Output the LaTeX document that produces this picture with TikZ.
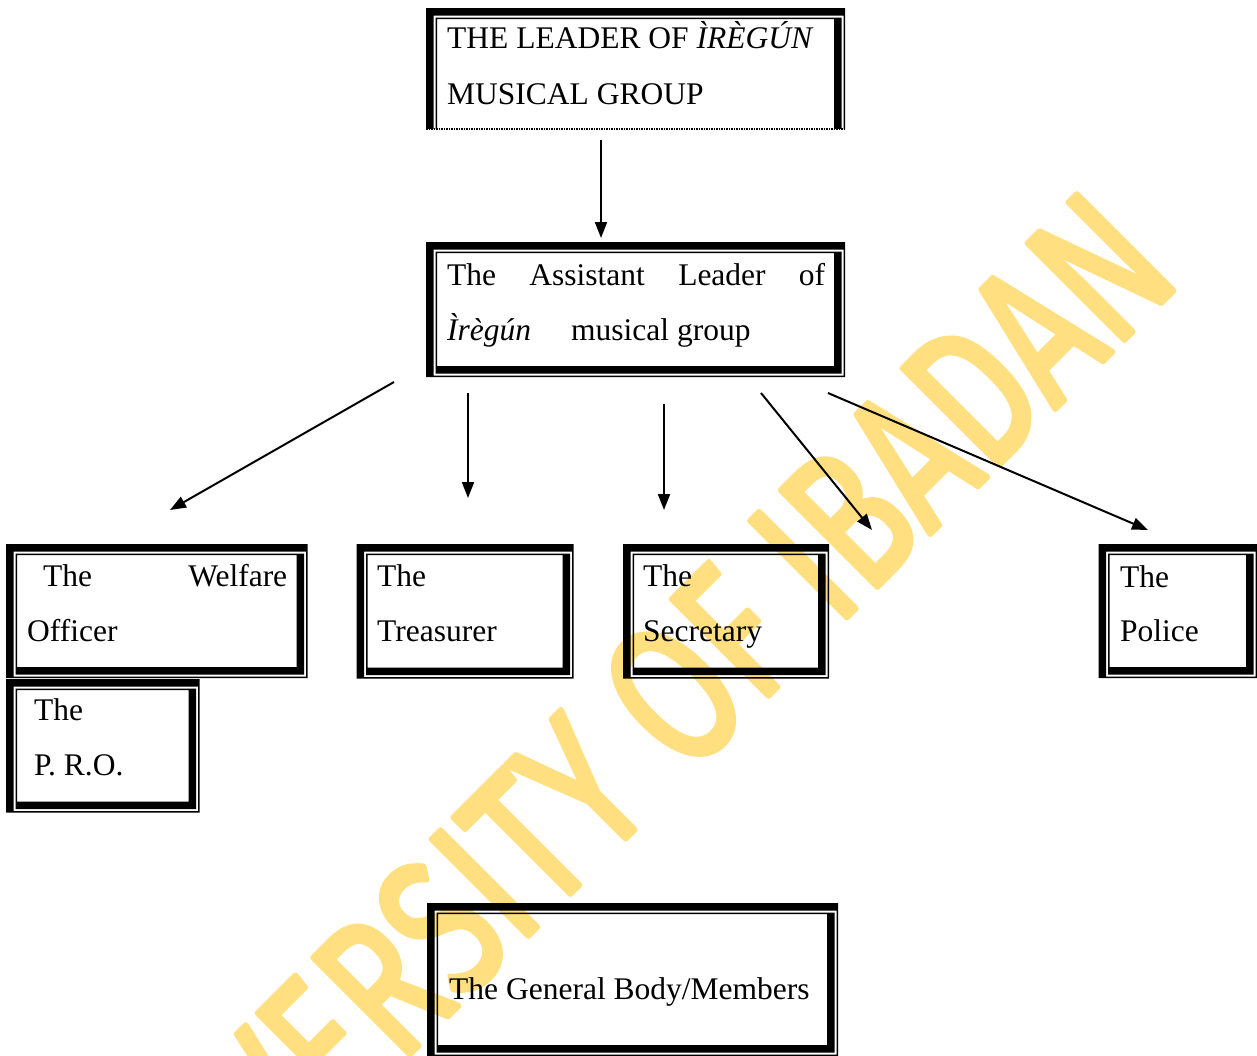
\documentclass[tikz,border=0pt]{standalone}
\usepackage{fontspec}
\setmainfont{Liberation Serif}
\newfontfamily\wmfont{Fira Sans}
\usetikzlibrary{arrows.meta}
\definecolor{wmyellow}{RGB}{255,223,128}
\newcommand{\fthick}{7.5}
\newcommand{\fgap}{2}
\newcommand{\fthin}{1.5}
% Word-style thick-thin frame: #1 name, #2 x1, #3 y1, #4 x2, #5 y2
\newcommand{\wbox}[5]{%
  \node[boxarea, minimum width={(#4-#2)*1pt}, minimum height={(#5-#3)*1pt}] (#1) at (#2,#3) {};
  \fill[black,even odd rule] (#2,#3) rectangle (#4,#5)
     ({#2+\fthick},{#3+\fthick}) rectangle ({#4-\fthin},{#5-\fthin});
  \fill[black,even odd rule] ({#2+\fthick+\fgap},{#3+\fthick+\fgap}) rectangle ({#4-\fthin-\fgap},{#5-\fthin-\fgap})
     ({#2+\fthick+\fgap+\fthin},{#3+\fthick+\fgap+\fthin}) rectangle ({#4-\fthin-\fgap-\fthick},{#5-\fthin-\fgap-\fthick});
}
\begin{document}
\begin{tikzpicture}[x=1pt,y=-1pt,
  boxarea/.style={anchor=north west, inner sep=0pt, outer sep=0pt, draw=none},
  lbl/.style={anchor=base west, inner sep=0pt, font=\fontsize{31.5}{36}\selectfont},
  arr/.style={line width=2pt, -{Triangle[length=16pt,width=12pt]}},
  wm/.style={rotate=45, anchor=base, inner sep=0pt, text=wmyellow,
     font=\wmfont\fontsize{198}{200}\selectfont}]
\useasboundingbox (0,0) rectangle (1257,1055);
% watermark
\node[wm] (wmark) at (650,814) {\scalebox{0.74}[1]{\special{pdf:literal direct 2 Tr 6 w 1 J 1 j}UNIVERSITY OF IBADAN\special{pdf:literal direct 0 Tr}}};

% leader box (bottom cut, dotted)
\begin{scope}
  \clip (420,0) rectangle (850,128.5);
  \wbox{leader}{426}{8}{845}{145}
\end{scope}
\draw[line width=1.5pt, dash pattern=on 1.5pt off 1pt] (426,129.2) -- (845,129.2);

\wbox{assistant}{426}{242}{845}{377}
\wbox{welfare}{6}{544}{307.5}{678}
\wbox{pro}{6}{679}{199.5}{812.5}
\wbox{treasurer}{356.5}{544}{573.5}{678.5}
\wbox{secretary}{623}{544}{829}{678.5}
\wbox{police}{1098.5}{544}{1257}{678}
\wbox{general}{427}{903}{838}{1056}

% texts
\node[lbl] (leader-l1) at (447,48) {THE LEADER OF \textit{ÌRÈGÚN}};
\node[lbl] (leader-l2) at (447,104) {MUSICAL GROUP};
\node[lbl] (assistant-l1) at (447,285) {\hbox to 378pt{The\hfill Assistant\hfill Leader\hfill of}};
\node[lbl] (assistant-l2a) at (447,340) {\textit{Ìrègún}};
\node[lbl] (assistant-l2b) at (571,340) {musical group};
\node[lbl] (welfare-l1) at (43,586) {\hbox to 244pt{The\hfill Welfare}};
\node[lbl] (welfare-l2) at (27,641) {Officer};
\node[lbl] (pro-l1) at (34,720) {The};
\node[lbl] (pro-l2) at (34,775) {P. R.O.};
\node[lbl] (treasurer-l1) at (377,586) {The};
\node[lbl] (treasurer-l2) at (377,641) {Treasurer};
\node[lbl] (secretary-l1) at (643,586) {The};
\node[lbl] (secretary-l2) at (643,641) {Secretary};
\node[lbl] (police-l1) at (1120,587) {The};
\node[lbl] (police-l2) at (1120,641) {Police};
\node[lbl] (general-l1) at (449,999) {The General Body/Members};

% arrows
\coordinate (a1s) at (601,140);  \coordinate (a1e) at (601,238);
\coordinate (a2s) at (394,382);  \coordinate (a2e) at (170,510);
\coordinate (a3s) at (468,393);  \coordinate (a3e) at (468,498);
\coordinate (a4s) at (664,404);  \coordinate (a4e) at (664,510);
\coordinate (a5s) at (761,393);  \coordinate (a5e) at (872,530);
\coordinate (a6s) at (828,393);  \coordinate (a6e) at (1148,530);
\draw[arr] (a1s) -- (a1e);
\draw[arr] (a2s) -- (a2e);
\draw[arr] (a3s) -- (a3e);
\draw[arr] (a4s) -- (a4e);
\draw[arr] (a5s) -- (a5e);
\draw[arr] (a6s) -- (a6e);
\end{tikzpicture}
\end{document}
